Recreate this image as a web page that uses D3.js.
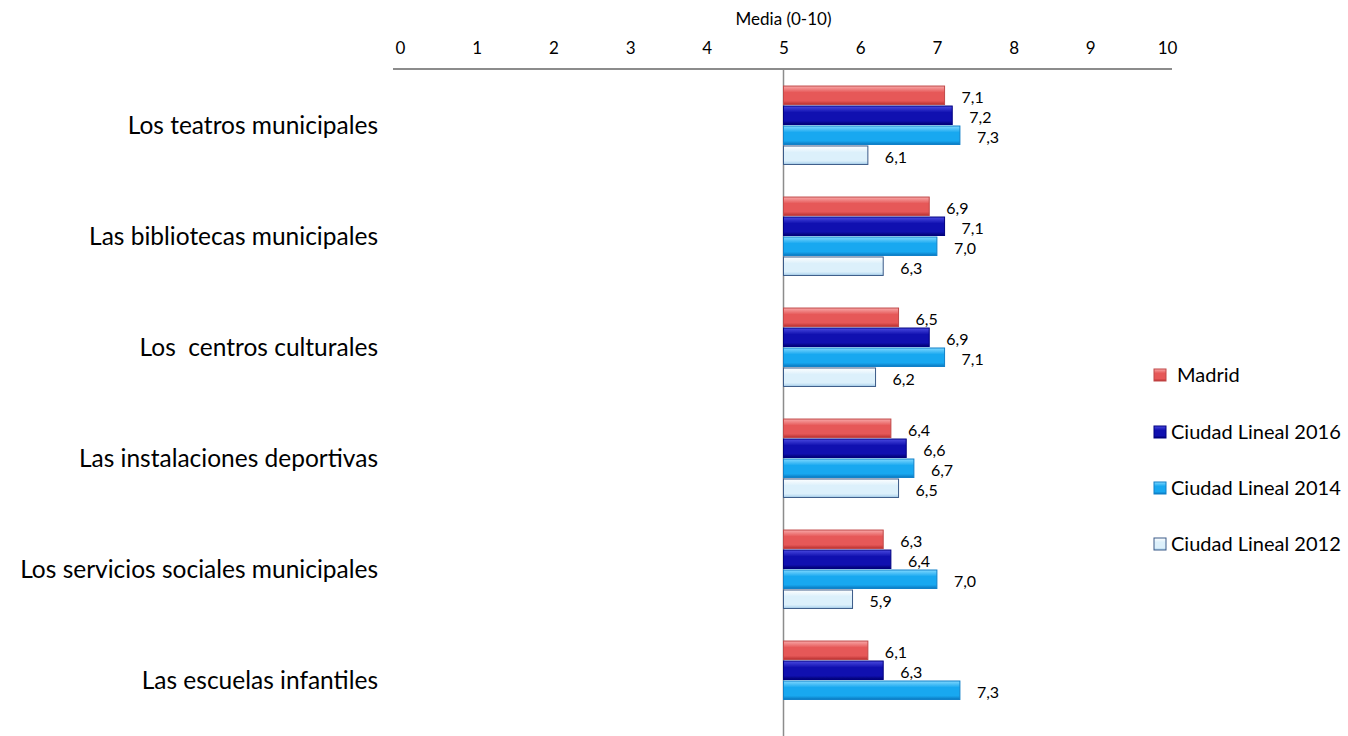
<!DOCTYPE html>
<html><head><meta charset="utf-8">
<script src="https://cdn.jsdelivr.net/npm/d3@7"></script>
<style>
body{margin:0;background:#fff;}
text{font-family:Lato,"Open Sans",sans-serif;fill:#000;}
</style></head>
<body><svg id="c" width="1348" height="736"></svg>
<script>
const categories = ["Los teatros municipales","Las bibliotecas municipales","Los  centros culturales","Las instalaciones deportivas","Los servicios sociales municipales","Las escuelas infantiles"];
const seriesNames = ["Madrid","Ciudad Lineal 2016","Ciudad Lineal 2014","Ciudad Lineal 2012"];
const madrid = [7.1,6.9,6.5,6.4,6.3,6.1];
const cl2016 = [7.2,7.1,6.9,6.6,6.4,6.3];
const cl2014 = [7.3,7.0,7.1,6.7,7.0,7.3];
const cl2012 = [6.1,6.3,6.2,6.5,5.9,null];
const ticks = [0,1,2,3,4,5,6,7,8,9,10];
const seriesValues = [madrid, cl2016, cl2014, cl2012];
const colors = [
  {light:"#f8a8a8", mid:"#e65858", dark:"#b83030", stroke:"#c04848"},
  {light:"#4a4ae0", mid:"#1010b0", dark:"#000070", stroke:"#000080"},
  {light:"#80d8ff", mid:"#18a8f0", dark:"#0a78c0", stroke:"#1080c8"},
  {light:"#ffffff", mid:"#dcf0fb", dark:"#a8d0ec", stroke:"#3a5a88"}
];

const svg = d3.select("#c");
const defs = svg.append("defs");
colors.forEach((c,i)=>{
  const g = defs.append("linearGradient").attr("id","g"+i).attr("x1",0).attr("y1",0).attr("x2",0).attr("y2",1);
  g.append("stop").attr("offset","0%").attr("stop-color",c.light);
  g.append("stop").attr("offset","35%").attr("stop-color",c.mid);
  g.append("stop").attr("offset","80%").attr("stop-color",c.mid);
  g.append("stop").attr("offset","100%").attr("stop-color",c.dark);
});

const x = d3.scaleLinear().domain([0,10]).range([400,1167]);
const y = d3.scaleBand().domain(categories).range([70,736]).paddingInner(0.28).paddingOuter(0.14);
const ys = d3.scaleBand().domain(seriesNames).range([0,y.bandwidth()]);

// axis
const axis = d3.axisTop(x).tickValues(ticks).tickSize(0).tickPadding(15).tickFormat(d3.format("d"));
const ag = svg.append("g").attr("transform","translate(0,69)").call(axis);
ag.select(".domain").remove();
ag.attr("font-family",null).attr("font-size",null);
ag.selectAll("text").style("font-size","17px").style("font-family","Lato,sans-serif").attr("fill","#000");
svg.append("line").attr("x1",393).attr("x2",1172).attr("y1",69).attr("y2",69).attr("stroke","#8c8c8c").attr("stroke-width",2);
svg.append("line").attr("x1",x(5)).attr("x2",x(5)).attr("y1",69).attr("y2",736).attr("stroke","#8c8c8c").attr("stroke-width",1.5);
svg.append("text").attr("x",x(5)).attr("y",25).attr("text-anchor","middle").style("font-size","17px").text("Media (0-10)");

// category labels
svg.selectAll(".cat").data(categories).enter().append("text")
  .attr("x",378).attr("y",d=>y(d)+y.bandwidth()/2).attr("dy","0.35em")
  .attr("text-anchor","end").style("font-size","24.5px").style("white-space","pre").attr("xml:space","preserve")
  .text(d=>d);

// bars
seriesValues.forEach((vals,si)=>{
  const data = categories.map((c,i)=>({c, v:vals[i]})).filter(d=>d.v!=null);
  const g = svg.append("g");
  g.selectAll("rect").data(data).enter().append("rect")
    .attr("x",x(5)).attr("y",d=>y(d.c)+ys(seriesNames[si])+0.5)
    .attr("width",d=>x(d.v)-x(5)).attr("height",ys.bandwidth()-1.5)
    .attr("fill","url(#g"+si+")").attr("stroke",colors[si].stroke).attr("stroke-width",1);
  g.selectAll("text").data(data).enter().append("text")
    .attr("x",d=>x(d.v)+17).attr("y",d=>y(d.c)+ys(seriesNames[si])+ys.bandwidth()/2+2).attr("dy","0.35em")
    .style("font-size","16px").text(d=>d3.format(".1f")(d.v).replace(".",","));
});

// legend
const legY = [375,432,488,544];
const legX = [1177,1171,1171,1171];
seriesNames.forEach((n,i)=>{
  svg.append("rect").attr("x",1154).attr("y",legY[i]-6).attr("width",12).attr("height",12)
    .attr("fill","url(#g"+i+")").attr("stroke",colors[i].stroke);
  svg.append("text").attr("x",legX[i]).attr("y",legY[i]).attr("dy","0.35em").style("font-size","20px").text(n);
});
</script></body></html>
